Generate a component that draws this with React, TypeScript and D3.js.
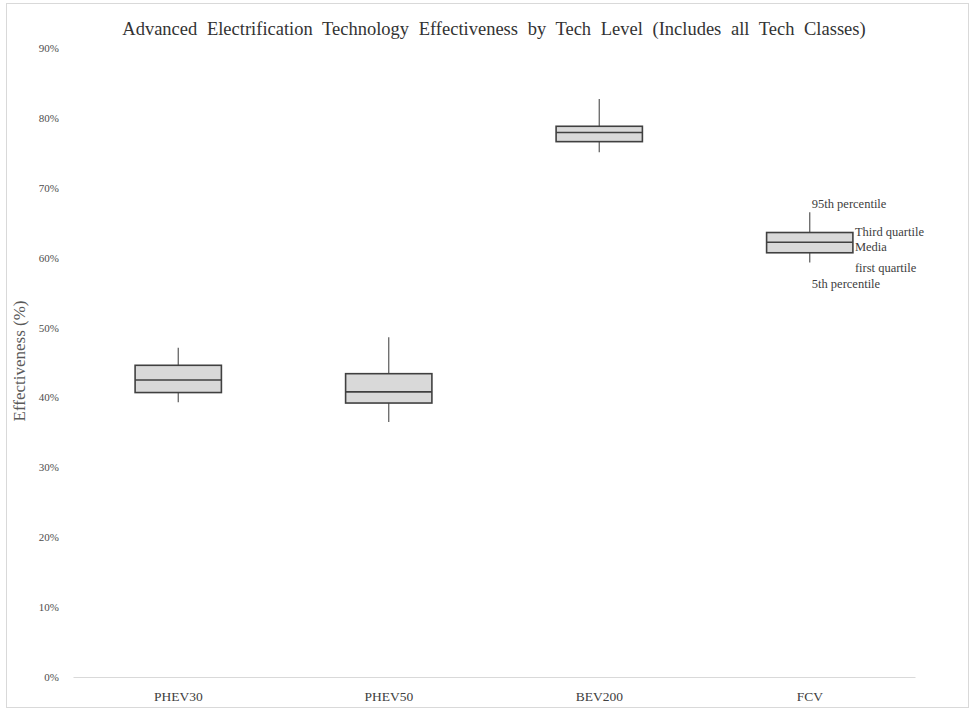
import React, { useRef, useEffect } from "react";
import * as d3 from "d3";

const categories = ["PHEV30", "PHEV50", "BEV200", "FCV"];
// 5th percentile, first quartile, median, third quartile, 95th percentile
const p5 = [0.393, 0.365, 0.751, 0.593];
const q1 = [0.407, 0.392, 0.766, 0.607];
const median = [0.425, 0.408, 0.779, 0.622];
const q3 = [0.446, 0.434, 0.788, 0.636];
const p95 = [0.471, 0.486, 0.827, 0.665];
const yTicks = [0, 0.1, 0.2, 0.3, 0.4, 0.5, 0.6, 0.7, 0.8, 0.9];
const noteLabels = ["95th percentile", "Third quartile", "Media", "first quartile", "5th percentile"];

const W = 971;
const H = 710;
const FONT = "'Liberation Serif', 'Times New Roman', serif";

export default function App() {
  const svgRef = useRef<SVGSVGElement>(null);

  useEffect(() => {
    const svg = d3.select(svgRef.current);
    svg.selectAll("*").remove();

    const x = d3.scaleBand().domain(categories).range([73, 915]);
    const y = d3.scaleLinear().domain([0, 0.9]).range([677, 48]);
    const boxW = x.bandwidth() * 0.41;

    // outer frame
    svg.append("rect")
      .attr("x", 6.5).attr("y", 3.5)
      .attr("width", 962).attr("height", 704)
      .attr("fill", "none").attr("stroke", "#d9d9d9");

    svg.append("text")
      .attr("x", 494).attr("y", 35)
      .attr("text-anchor", "middle")
      .style("font-family", FONT).style("font-size", "18.5px")
      .style("word-spacing", "5px")
      .attr("fill", "#333")
      .text("Advanced Electrification Technology Effectiveness by Tech Level (Includes all Tech Classes)");

    // y axis labels
    const yAxis = svg.append("g").attr("transform", "translate(59,0)")
      .call(d3.axisLeft(y).tickValues(yTicks).tickFormat(d3.format(".0%")).tickSize(0).tickPadding(0));
    yAxis.select(".domain").remove();
    yAxis.selectAll("text")
      .style("font-family", FONT).style("font-size", "11px").attr("fill", "#4d4d4d");

    svg.append("text")
      .attr("transform", "translate(25,361) rotate(-90)")
      .attr("text-anchor", "middle")
      .style("font-family", FONT).style("font-size", "17px")
      .attr("fill", "#595959")
      .text("Effectiveness (%)");

    // x axis
    const xAxis = svg.append("g").attr("transform", "translate(0,677)")
      .call(d3.axisBottom(x).tickSize(0).tickPadding(14));
    xAxis.select(".domain").attr("stroke", "#d9d9d9").attr("stroke-width", 1.2);
    xAxis.selectAll("text")
      .style("font-family", FONT).style("font-size", "13.5px").attr("fill", "#404040");

    const boxes = svg.append("g").selectAll("g").data(categories).join("g")
      .attr("transform", (c) => `translate(${x(c)! + x.bandwidth() / 2},0)`);

    boxes.append("line")
      .attr("y1", (_, i) => y(p5[i])).attr("y2", (_, i) => y(p95[i]))
      .attr("stroke", "#595959").attr("stroke-width", 1.2);

    boxes.append("rect")
      .attr("x", -boxW / 2).attr("width", boxW)
      .attr("y", (_, i) => y(q3[i]))
      .attr("height", (_, i) => y(q1[i]) - y(q3[i]))
      .attr("fill", "#d9d9d9").attr("stroke", "#404040").attr("stroke-width", 1.6);

    boxes.append("line")
      .attr("x1", -boxW / 2).attr("x2", boxW / 2)
      .attr("y1", (_, i) => y(median[i])).attr("y2", (_, i) => y(median[i]))
      .attr("stroke", "#404040").attr("stroke-width", 1.6);

    // annotations on the last box
    const last = categories.length - 1;
    const cx = x(categories[last])! + x.bandwidth() / 2;
    const right = cx + boxW / 2 + 2;
    const notes = [
      { t: noteLabels[0], x: cx + 2, y: y(p95[last]) - 4 },
      { t: noteLabels[1], x: right, y: y(q3[last]) + 3 },
      { t: noteLabels[2], x: right, y: y(median[last]) + 9 },
      { t: noteLabels[3], x: right, y: y(q1[last]) + 19 },
      { t: noteLabels[4], x: cx + 2, y: y(p5[last]) + 25 },
    ];
    svg.append("g").selectAll("text").data(notes).join("text")
      .attr("x", (d) => d.x).attr("y", (d) => d.y)
      .style("font-family", FONT).style("font-size", "12.5px")
      .attr("fill", "#404040")
      .text((d) => d.t);
  }, []);

  return (
    <svg
      ref={svgRef}
      width={W}
      height={H}
      style={{ position: "absolute", left: 0, top: 0, background: "#fff" }}
    />
  );
}
